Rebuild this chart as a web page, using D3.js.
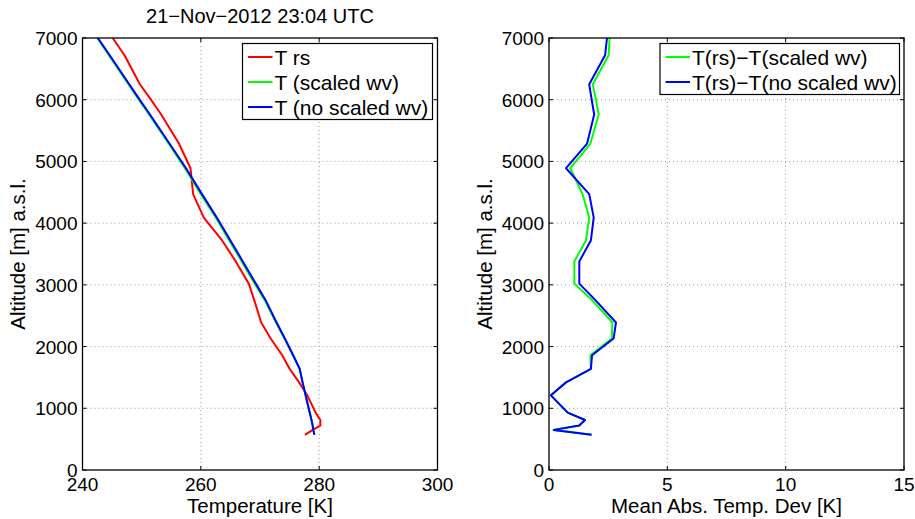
<!DOCTYPE html>
<html>
<head>
<meta charset="utf-8">
<script src="https://cdn.jsdelivr.net/npm/d3@7"></script>
<style>
  body { margin: 0; background: #fff; }
  svg { display: block; font-family: "Liberation Sans", Arial, sans-serif; }
  .grid line { stroke: #9a9a9a; stroke-width: 1; stroke-dasharray: 1,3; }
  .frame { fill: none; stroke: #000; stroke-width: 1.3; }
  .tick-mark { stroke: #000; stroke-width: 1; }
  .series { fill: none; stroke-width: 2; stroke-linejoin: round; }
</style>
</head>
<body>
<svg id="chart" width="915" height="519"></svg>
<script>

// altitude levels [m a.s.l.] shared by all profiles
const altitudes = [570, 650, 720, 810, 930, 1210, 1420, 1640, 1860, 2130, 2390, 2760,
                   3020, 3380, 3720, 4090, 4470, 4890, 5290, 5760, 6010, 6250, 6720, 7000];

// temperature profiles [K]
const tempRs       = [277.6, 278.9, 280.2, 280.2, 279.4, 278.0, 276.6, 275.0, 273.75, 271.8, 270.2, 269.0,
                      268.1, 265.9, 263.6, 260.5, 258.7, 258.25, 256.3, 253.3, 251.5, 249.7, 247.1, 245.1];
const tempScaled   = [279.2, 279.0, 278.9, 278.7, 278.4, 277.7, 277.2, 276.7, 275.6, 274.15, 272.7, 270.75,
                      269.1, 266.9, 264.8, 262.5, 260.0, 257.3, 254.55, 251.25, 249.45, 247.75, 244.45, 242.5];
const tempNoScaled = [279.2, 279.0, 278.9, 278.7, 278.4, 277.7, 277.2, 276.7, 275.6, 274.2, 272.8, 270.9,
                      269.3, 267.1, 265.0, 262.7, 260.2, 257.5, 254.7, 251.4, 249.6, 247.9, 244.6, 242.6];

// mean absolute deviations [K]
const devScaled    = [1.80, 0.20, 1.28, 1.52, 0.79, 0.08, 0.72, 1.77, 1.75, 2.65, 2.68, 1.80,
                      1.07, 1.07, 1.56, 1.70, 1.42, 0.90, 1.75, 2.10, 1.98, 1.85, 2.52, 2.56];
const devNoScaled  = [1.80, 0.20, 1.28, 1.52, 0.79, 0.08, 0.72, 1.77, 1.82, 2.73, 2.83, 1.94,
                      1.28, 1.28, 1.77, 1.89, 1.70, 0.72, 1.61, 1.91, 1.80, 1.70, 2.37, 2.45];

const altTicks  = [0, 1000, 2000, 3000, 4000, 5000, 6000, 7000];
const tempTicks = [240, 260, 280, 300];
const devTicks  = [0, 5, 10, 15];

const title = '21\u2212Nov\u22122012 23:04 UTC';

const svg = d3.select('#chart');

const plotTop    = 38,
      plotBottom = 470;

const y = d3.scaleLinear().domain([0, 7000]).range([plotBottom, plotTop]);

function drawPanel(opts) {

  const x = d3.scaleLinear().domain(opts.domain).range(opts.range);
  const g = svg.append('g');

  // grid
  const grid = g.append('g').classed('grid', true);

  opts.xTicks.slice(1, -1).forEach((t) => {
    grid.append('line')
      .attr('x1', x(t)).attr('x2', x(t))
      .attr('y1', plotTop).attr('y2', plotBottom);
  });

  altTicks.slice(1, -1).forEach((t) => {
    grid.append('line')
      .attr('x1', opts.range[0]).attr('x2', opts.range[1])
      .attr('y1', y(t)).attr('y2', y(t));
  });

  // inner tick marks on all four sides
  opts.xTicks.forEach((t) => {
    g.append('line').classed('tick-mark', true)
      .attr('x1', x(t)).attr('x2', x(t)).attr('y1', plotBottom).attr('y2', plotBottom - 4);
    g.append('line').classed('tick-mark', true)
      .attr('x1', x(t)).attr('x2', x(t)).attr('y1', plotTop).attr('y2', plotTop + 4);
  });

  altTicks.forEach((t) => {
    g.append('line').classed('tick-mark', true)
      .attr('x1', opts.range[0]).attr('x2', opts.range[0] + 4).attr('y1', y(t)).attr('y2', y(t));
    g.append('line').classed('tick-mark', true)
      .attr('x1', opts.range[1]).attr('x2', opts.range[1] - 4).attr('y1', y(t)).attr('y2', y(t));
  });

  // series
  opts.series.forEach((s) => {
    const line = d3.line()
      .x((d) => x(d))
      .y((d, i) => y(altitudes[i]));

    g.append('path').classed('series', true)
      .attr('stroke', s.color)
      .attr('d', line(s.values));
  });

  // frame
  g.append('rect').classed('frame', true)
    .attr('x', opts.range[0])
    .attr('y', plotTop)
    .attr('width', opts.range[1] - opts.range[0])
    .attr('height', plotBottom - plotTop);

  // tick labels
  opts.xTicks.forEach((t) => {
    g.append('text')
      .attr('x', x(t))
      .attr('y', 491)
      .attr('text-anchor', 'middle')
      .attr('font-size', 19)
      .text(t);
  });

  altTicks.forEach((t) => {
    g.append('text')
      .attr('x', opts.range[0] - 5)
      .attr('y', y(t) + 7)
      .attr('text-anchor', 'end')
      .attr('font-size', 19)
      .text(t);
  });

  // axis labels
  g.append('text')
    .attr('x', (opts.range[0] + opts.range[1]) / 2)
    .attr('y', 513)
    .attr('text-anchor', 'middle')
    .attr('font-size', 20.5)
    .text(opts.xLabel);

  g.append('text')
    .attr('transform', `translate(${opts.yLabelX}, ${(plotTop + plotBottom) / 2}) rotate(-90)`)
    .attr('text-anchor', 'middle')
    .attr('font-size', 20.5)
    .text('Altitude [m] a.s.l.');

  // legend
  const lg = opts.legend;
  const legend = g.append('g');

  legend.append('rect')
    .attr('x', lg.x).attr('y', lg.y)
    .attr('width', lg.w).attr('height', lg.h)
    .attr('fill', '#fff')
    .attr('stroke', '#000')
    .attr('stroke-width', 1.2);

  opts.series.forEach((s, i) => {
    const ry = lg.y + 13.5 + i * 25;

    legend.append('line')
      .attr('x1', lg.x + 5.5).attr('x2', lg.x + 30)
      .attr('y1', ry).attr('y2', ry)
      .attr('stroke', s.color)
      .attr('stroke-width', 2);

    legend.append('text')
      .attr('x', lg.x + 32)
      .attr('y', ry + 7.5)
      .attr('font-size', 21)
      .text(s.name);
  });

  return g;
}

drawPanel({
  domain: [240, 300],
  range: [82.5, 437.5],
  xTicks: tempTicks,
  xLabel: 'Temperature [K]',
  yLabelX: 25,
  series: [
    { name: 'T rs',              color: '#ff0000', values: tempRs },
    { name: 'T (scaled wv)',     color: '#00ff00', values: tempScaled },
    { name: 'T (no scaled wv)',  color: '#0000ff', values: tempNoScaled }
  ],
  legend: { x: 242.5, y: 43.5, w: 190, h: 76 }
});

drawPanel({
  domain: [0, 15],
  range: [549, 904],
  xTicks: devTicks,
  xLabel: 'Mean Abs. Temp. Dev [K]',
  yLabelX: 492,
  series: [
    { name: 'T(rs)\u2212T(scaled wv)',    color: '#00ff00', values: devScaled },
    { name: 'T(rs)\u2212T(no scaled wv)', color: '#0000ff', values: devNoScaled }
  ],
  legend: { x: 660, y: 43.5, w: 239.5, h: 51 }
});

svg.append('text')
  .attr('x', 260)
  .attr('y', 23)
  .attr('text-anchor', 'middle')
  .attr('font-size', 20)
  .text(title);

</script>
</body>
</html>
